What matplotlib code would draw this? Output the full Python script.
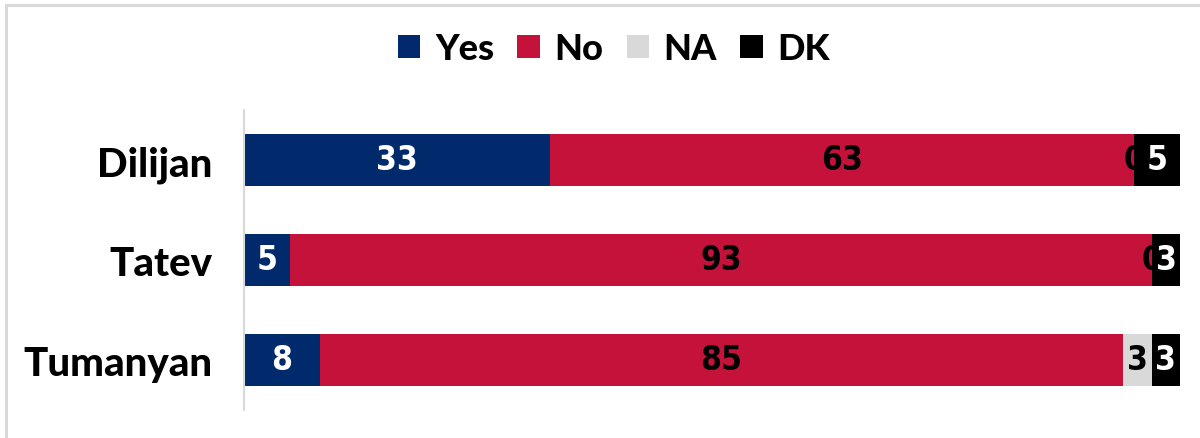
import matplotlib.pyplot as plt
import matplotlib.patches as mpatches
import numpy as np

categories = ["Dilijan", "Tatev", "Tumanyan"]
series_names = ["Yes", "No", "NA", "DK"]
yes_vals = [33, 5, 8]
no_vals = [63, 93, 85]
na_vals = [0, 0, 3]
dk_vals = [5, 3, 3]

colors = ["#002A6C", "#C4123A", "#D9D9D9", "#000000"]
label_colors = ["white", "black", "black", "white"]

label_font = "Lato"

fig = plt.figure(figsize=(12, 4.39), dpi=100)
fig.patch.set_facecolor("white")

# outer chart frame
fig.add_artist(mpatches.Rectangle((6 / 1200, -0.05), 1.2, 1 - 6 / 439 + 0.05,
                                  transform=fig.transFigure, fill=False,
                                  edgecolor="#D9D9D9", linewidth=2.2))

ax = fig.add_axes([244 / 1200, 1 - 411 / 439, 936 / 1200, 300 / 439])

data = np.array([yes_vals, no_vals, na_vals, dk_vals], dtype=float)
totals = data.sum(axis=0)
shares = data / totals * 100

y = np.arange(len(categories))
left = np.zeros(len(categories))
handles = []
for i, name in enumerate(series_names):
    bars = ax.barh(y, shares[i], left=left, height=0.52, color=colors[i],
                   zorder=2 + i, label=name)
    handles.append(bars)
    for j in range(len(categories)):
        cx = left[j] + shares[i][j] / 2
        ax.text(cx, y[j], f"{int(data[i][j])}", ha="center", va="center",
                color=label_colors[i], fontsize=24, fontweight="bold",
                family="DejaVu Sans", fontstretch="condensed", zorder=2.5 + i)
    left += shares[i]

ax.set_xlim(0, 100)
ax.set_ylim(2.5, -0.5)
ax.set_yticks(y)
ax.set_yticklabels(categories, fontsize=29, fontweight="black", family=label_font)
ax.tick_params(axis="y", length=0, pad=23)
ax.set_xticks([])
for s in ["top", "right", "bottom"]:
    ax.spines[s].set_visible(False)
ax.spines["left"].set_color("#D9D9D9")
ax.spines["left"].set_linewidth(1.5)

leg = fig.legend(handles=handles, labels=series_names, loc="center",
                 bbox_to_anchor=(614 / 1200, 1 - 50 / 439), ncol=4, frameon=False,
                 prop={"family": label_font, "weight": "black", "size": 26},
                 handlelength=0.62, handleheight=0.62, handletextpad=0.4,
                 columnspacing=0.65)

fig.savefig("out.png", dpi=100)
